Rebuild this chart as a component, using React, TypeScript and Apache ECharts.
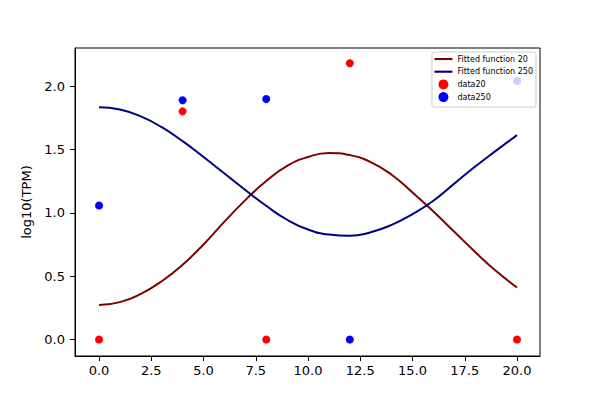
import React, { useEffect, useRef } from "react";
import * as echarts from "echarts";

const xTicks = [0, 2.5, 5, 7.5, 10, 12.5, 15, 17.5, 20];
const yTicks = [0, 0.5, 1.0, 1.5, 2.0];

const dataX20 = [0, 4, 8, 12, 20];
const dataY20 = [0, 1.8, 0, 2.18, 0];
const dataX250 = [0, 4, 8, 12, 20];
const dataY250 = [1.058, 1.888, 1.897, 0, 2.04];

const fitX = [0, 1, 2, 3, 4, 5, 6, 7, 8, 9, 10, 11, 12, 13, 14, 15, 16, 17, 18, 19, 20];
const fitY20 = [0.272, 0.295, 0.36, 0.46, 0.59, 0.75, 0.93, 1.1, 1.25, 1.37, 1.44, 1.472, 1.455, 1.4, 1.3, 1.16, 1.01, 0.85, 0.69, 0.54, 0.41];
const fitY250 = [1.833, 1.815, 1.76, 1.675, 1.565, 1.44, 1.31, 1.18, 1.055, 0.945, 0.868, 0.828, 0.818, 0.846, 0.905, 0.99, 1.095, 1.23, 1.365, 1.49, 1.613];

const zip = (xs: number[], ys: number[]) => xs.map((x, i) => [x, ys[i]]);

export default function App() {
  const ref = useRef<HTMLDivElement>(null);
  useEffect(() => {
    if (!ref.current) return;
    const chart = echarts.init(ref.current, null, { renderer: "svg" });
    const font = "DejaVu Sans";
    const lineIcon = "path://M0,0 L17,0 L17,2 L0,2 Z";
    chart.setOption({
      animation: false,
      textStyle: { fontFamily: font },
      grid: {
        left: 75,
        right: 60,
        top: 48,
        bottom: 44,
        show: true,
        borderColor: "#000",
        borderWidth: 1,
        backgroundColor: "transparent",
      },
      legend: {
        orient: "vertical",
        right: 64,
        top: 52,
        itemWidth: 18,
        itemHeight: 10,
        itemGap: 2.7,
        padding: [2, 3, 5, 2.5],
        backgroundColor: "rgba(255,255,255,0.8)",
        borderColor: "#cccccc",
        borderWidth: 1,
        borderRadius: 2,
        textStyle: { fontSize: 8, lineHeight: 10, color: "#000", fontFamily: font },
        data: [
          { name: "Fitted function 20", icon: lineIcon },
          { name: "Fitted function 250", icon: lineIcon },
          { name: "data20", icon: "circle" },
          { name: "data250", icon: "circle" },
        ],
      },
      xAxis: {
        type: "value",
        min: -1.15,
        max: 21.1,
        splitLine: { show: false },
        axisLine: { show: true, onZero: false, lineStyle: { color: "#000", width: 1 } },
        axisTick: { show: true, customValues: xTicks, length: 5, lineStyle: { color: "#000", width: 1 } },
        axisLabel: {
          customValues: xTicks,
          formatter: (v: number) => v.toFixed(1),
          color: "#000",
          fontSize: 13,
          fontFamily: font,
          margin: 8,
        },
      },
      yAxis: {
        type: "value",
        min: -0.13,
        max: 2.3,
        name: "log10(TPM)",
        nameLocation: "middle",
        nameGap: 38,
        nameTextStyle: { fontSize: 13, color: "#000", fontFamily: font },
        splitLine: { show: false },
        axisLine: { show: true, onZero: false, lineStyle: { color: "#000", width: 1 } },
        axisTick: { show: true, customValues: yTicks, length: 5, lineStyle: { color: "#000", width: 1 } },
        axisLabel: {
          customValues: yTicks,
          formatter: (v: number) => v.toFixed(1),
          color: "#000",
          fontSize: 13,
          fontFamily: font,
          margin: 10,
        },
      },
      series: [
        {
          name: "Fitted function 20",
          type: "line",
          data: zip(fitX, fitY20),
          symbol: "none",
          smooth: 0.5,
          color: "#800000",
          lineStyle: { color: "#800000", width: 2 },
          z: 2,
        },
        {
          name: "Fitted function 250",
          type: "line",
          data: zip(fitX, fitY250),
          symbol: "none",
          smooth: 0.5,
          color: "#000080",
          lineStyle: { color: "#000080", width: 2 },
          z: 2,
        },
        {
          name: "data20",
          type: "scatter",
          data: zip(dataX20, dataY20),
          symbolSize: 8,
          itemStyle: { color: "#ff0000", opacity: 1 },
          z: 3,
        },
        {
          name: "data250",
          type: "scatter",
          data: zip(dataX250, dataY250),
          symbolSize: 8,
          itemStyle: { color: "#0000ff", opacity: 1 },
          z: 3,
        },
      ],
    });
    return () => chart.dispose();
  }, []);
  return (
    <div
      ref={ref}
      style={{ position: "fixed", left: 0, top: 0, width: 600, height: 400, background: "#fff" }}
    />
  );
}
